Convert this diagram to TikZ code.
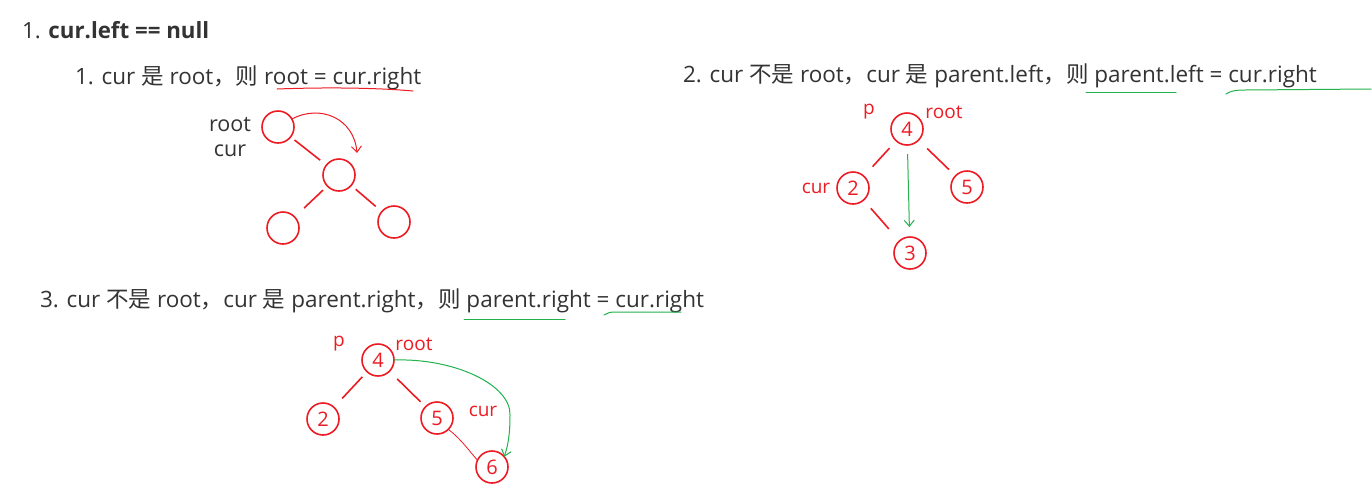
\documentclass[tikz,border=0pt]{standalone}
\usepackage{fontspec}
\setmainfont{Open Sans}
\newfontfamily\cnfont{Noto Sans CJK SC}
\newcommand{\cn}[1]{{\cnfont #1}}
\usetikzlibrary{arrows.meta}
\definecolor{txt}{HTML}{333333}
\definecolor{pred}{HTML}{ED1C24}
\definecolor{pgreen}{HTML}{22B14C}
\begin{document}
\begin{tikzpicture}[x=1pt,y=-1pt,
  every node/.style={inner sep=0pt, outer sep=0pt},
  body/.style={anchor=base west, text=txt, font=\fontsize{22.5}{26}\selectfont},
  tnode/.style={circle, draw=pred, line width=1.6pt, minimum size=32pt, text=pred, font=\fontsize{20}{22}\selectfont},
  edge/.style={draw=pred, line width=1.6pt},
  lbl/.style={text=pred, font=\fontsize{19}{22}\selectfont},
  garrow/.style={draw=pgreen, line width=1pt, -{Straight Barb[length=6pt,width=10pt]}},
  rarrow/.style={draw=pred, line width=1pt, -{Straight Barb[length=6pt,width=10pt]}},
  uline/.style={line width=1pt, line cap=round}]
\useasboundingbox (0,0) rectangle (1372,499);
\fill[white] (0,0) rectangle (1372,499);

% title
\node[body, font=\fontsize{22.3}{26}\selectfont] (title) at (22,38) {1. \textbf{cur.left == null}};

% ---------- case 1 ----------
\node[body] (l1) at (75,84) {1. cur \cn{是} root\cn{，则} root = cur.right};
\draw[uline, draw=pred] (277,89) .. controls (330,87) and (380,88) .. (413,91);

\node[text=txt, font=\fontsize{21.5}{25}\selectfont, align=center] (lab1) at (230,137) {root\\cur};
\node[tnode] (a1) at (278,127) {};
\node[tnode] (a2) at (339,175) {};
\node[tnode] (a3) at (283,228) {};
\node[tnode] (a4) at (394,222) {};
\draw[edge, shorten <=5pt, shorten >=8pt] (a1) -- (a2);
\draw[edge, shorten <=6pt, shorten >=13pt] (a2) -- (a3);
\draw[edge, shorten <=6pt, shorten >=8pt] (a2) -- (a4);
\draw[rarrow] (a1.30) .. controls (320,104) and (354,118) .. ([shift={(18,-22)}]a2.center);

% ---------- case 2 ----------
\node[body] (l2) at (683,82) {2. cur \cn{不是} root\cn{，}cur \cn{是} parent.left\cn{，则} parent.left = cur.right};
\draw[uline, draw=pgreen] (1086,92) -- (1176,92);
\draw[uline, draw=pgreen] (1226,94) .. controls (1230,91) and (1236,90) .. (1245,90) -- (1371,89);

\node[lbl] (p2) at (869,112) {p};
\node[lbl] (r2) at (944,112) {root};
\node[lbl] (c2l) at (816,188) {cur};
\node[tnode] (b4) at (907,129) {4};
\node[tnode] (b2) at (853,188) {2};
\node[tnode] (b5) at (967,187) {5};
\node[tnode] (b3) at (910,253) {3};
\draw[edge, shorten <=10pt, shorten >=13pt] (b4) -- (b2);
\draw[edge, shorten <=12pt, shorten >=9pt] (b4) -- (b5);
\draw[edge, shorten <=11pt, shorten >=16pt] (b2) -- (b3);
\draw[garrow, shorten <=9pt, shorten >=10pt] (b4) -- (b3);

% ---------- case 3 ----------
\node[body] (l3) at (40,307) {3. cur \cn{不是} root\cn{，}cur \cn{是} parent.right\cn{，则} parent.right = cur.right};
\draw[uline, draw=pgreen] (464,319) -- (565,319);
\draw[uline, draw=pgreen] (604,315) .. controls (607,313) and (610,312) .. (615,312) -- (681,312);

\node[lbl] (p3) at (339,344) {p};
\node[lbl] (r3) at (414,344) {root};
\node[lbl] (c3l) at (483,411) {cur};
\node[tnode] (d4) at (378,360) {4};
\node[tnode] (d2) at (323,419) {2};
\node[tnode] (d5) at (437,418) {5};
\node[tnode] (d6) at (492,467) {6};
\draw[edge, shorten <=7pt, shorten >=12pt] (d4) -- (d2);
\draw[edge, shorten <=11pt, shorten >=7pt] (d4) -- (d5);
\draw[draw=pred, line width=0.8pt] (d5.-45) .. controls (462,440) and (470,452) .. (d6.155);
\draw[garrow] (d4.east) .. controls (455,358) and (511,385) .. (510,415) .. controls (510,435) and (508,445) .. (d6.40);
\end{tikzpicture}
\end{document}
